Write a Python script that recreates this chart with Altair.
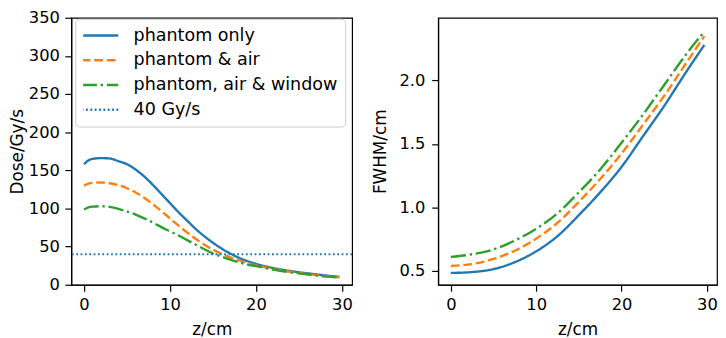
import altair as alt
import pandas as pd

# ---------------- data ----------------
series_names = ["phantom only", "phantom & air", "phantom, air & window"]
threshold_name = "40 Gy/s"
threshold_value = 40

dose_z = [0, 0.5, 1, 2, 3, 4, 5, 6, 7, 8, 9, 10, 11, 12, 13, 14, 15, 16, 17, 18, 19, 20, 22, 24, 26, 28, 29.7]
dose_phantom = [158, 163, 165, 166, 165.5, 162, 158, 151, 142, 131, 119, 107, 95, 84, 73, 63.5, 55, 47.5, 41, 35.5, 31, 27.5, 22, 18, 15, 12.3, 10.3]
dose_air = [130, 132.5, 133.5, 134, 133, 130.5, 126.5, 121, 114, 105.5, 96.5, 87, 77.5, 68.5, 60, 52.5, 46, 40.5, 36, 32, 28.5, 25.5, 21, 17, 14, 11.5, 9.8]
dose_window = [98.5, 101.5, 102.5, 103, 102, 99.5, 96, 92, 87, 81.5, 75.5, 70, 64.5, 58.5, 52.5, 46.5, 41, 37, 33, 29.5, 26.5, 24.5, 20, 16.3, 13.5, 11, 9.3]

fwhm_z = [0, 2.5, 5, 7.5, 10, 12.5, 15, 17.5, 20, 22.5, 25, 27.5, 29.7]
fwhm_phantom = [0.485, 0.492, 0.515, 0.57, 0.655, 0.775, 0.94, 1.12, 1.32, 1.56, 1.80, 2.06, 2.28]
fwhm_air = [0.54, 0.555, 0.595, 0.66, 0.755, 0.88, 1.045, 1.225, 1.425, 1.65, 1.88, 2.13, 2.35]
fwhm_window = [0.612, 0.632, 0.67, 0.74, 0.833, 0.955, 1.12, 1.30, 1.51, 1.73, 1.965, 2.20, 2.385]

x_ticks = [0, 10, 20, 30]
dose_ticks = [0, 50, 100, 150, 200, 250, 300, 350]
fwhm_ticks = [0.5, 1.0, 1.5, 2.0]

# ---------------- tables ----------------
dose_rows = []
for name, vals in zip(series_names, [dose_phantom, dose_air, dose_window]):
    for z, v in zip(dose_z, vals):
        dose_rows.append({"series": name, "z": z, "dose": v})
dose_df = pd.DataFrame(dose_rows)

fwhm_rows = []
for name, vals in zip(series_names, [fwhm_phantom, fwhm_air, fwhm_window]):
    for z, v in zip(fwhm_z, vals):
        fwhm_rows.append({"series": name, "z": z, "fwhm": v})
fwhm_df = pd.DataFrame(fwhm_rows)

thr_df = pd.DataFrame({"series": [threshold_name], "dose": [threshold_value]})

# ---------------- styles ----------------
domain = series_names + [threshold_name]
colors = ["#1f77b4", "#ff7f0e", "#2ca02c", "#1f77b4"]
dashes = [[1, 0], [8.9, 3.8], [15.4, 3.8, 2.4, 3.8], [1.8, 2.6]]
color_scale = alt.Scale(domain=domain, range=colors)
dash_scale = alt.Scale(domain=domain, range=dashes)

legend = alt.Legend(
    title=None, orient="none", legendX=4, legendY=1,
    symbolType="stroke", symbolSize=1369, symbolStrokeWidth=2.4, symbolOffset=-3,
    labelFontSize=17.7, labelFont="DejaVu Sans", labelColor="black",
    padding=8, rowPadding=7, clipHeight=18, labelOffset=14, labelLimit=400,
    strokeColor="#cccccc", fillColor="rgba(255,255,255,0.8)", cornerRadius=4,
)

x_scale = alt.Scale(domain=[-1.485, 31.185], nice=False, zero=False)
x_enc = alt.X("z:Q", scale=x_scale,
              axis=alt.Axis(values=x_ticks, title="z/cm", titlePadding=8.5))

y_dose = alt.Y("dose:Q", scale=alt.Scale(domain=[0, 350], nice=False, zero=False),
               axis=alt.Axis(values=dose_ticks, title="Dose/Gy/s", titlePadding=1.5))
color_enc = alt.Color("series:N", scale=color_scale, legend=legend)
dash_enc = alt.StrokeDash("series:N", scale=dash_scale, legend=legend)

# ---------------- left panel ----------------
dose_lines = alt.Chart(dose_df).mark_line(strokeWidth=2.4, interpolate="monotone").encode(
    x=x_enc, y=y_dose, color=color_enc, strokeDash=dash_enc, order=alt.Order("z:Q"),
)
rule = alt.Chart(thr_df).mark_rule(strokeWidth=1.8).encode(
    y=y_dose, color=color_enc, strokeDash=dash_enc,
)
left = alt.layer(dose_lines, rule).properties(width=284, height=270)

# ---------------- right panel ----------------
right = alt.Chart(fwhm_df).mark_line(strokeWidth=2.4, interpolate="monotone").encode(
    x=x_enc,
    y=alt.Y("fwhm:Q", scale=alt.Scale(domain=[0.392, 2.494], nice=False, zero=False),
            axis=alt.Axis(values=fwhm_ticks, format=".1f", title="FWHM/cm", titlePadding=9,
                          labelPadding=7)),
    color=alt.Color("series:N", scale=color_scale, legend=None),
    strokeDash=alt.StrokeDash("series:N", scale=dash_scale, legend=None),
    order=alt.Order("z:Q"),
).properties(width=282, height=270)

chart = alt.hconcat(left, right, spacing=87, bounds="flush").resolve_scale(
    color="independent", strokeDash="independent"
).properties(
    padding={"left": 0, "top": -1, "right": 0, "bottom": 0}
).configure_view(
    stroke="black", strokeWidth=1.2
).configure_axis(
    labelFont="DejaVu Sans", labelFontSize=16.5, labelColor="black",
    titleFont="DejaVu Sans", titleFontSize=17, titleFontWeight="normal", titleColor="black",
    tickColor="black", tickSize=6.5, tickWidth=1.2, domainColor="black", domainWidth=1.2,
    grid=False, labelPadding=5.5, labelOverlap=False,
)

chart.save("out.html", embed_options={"renderer": "svg", "actions": False})
